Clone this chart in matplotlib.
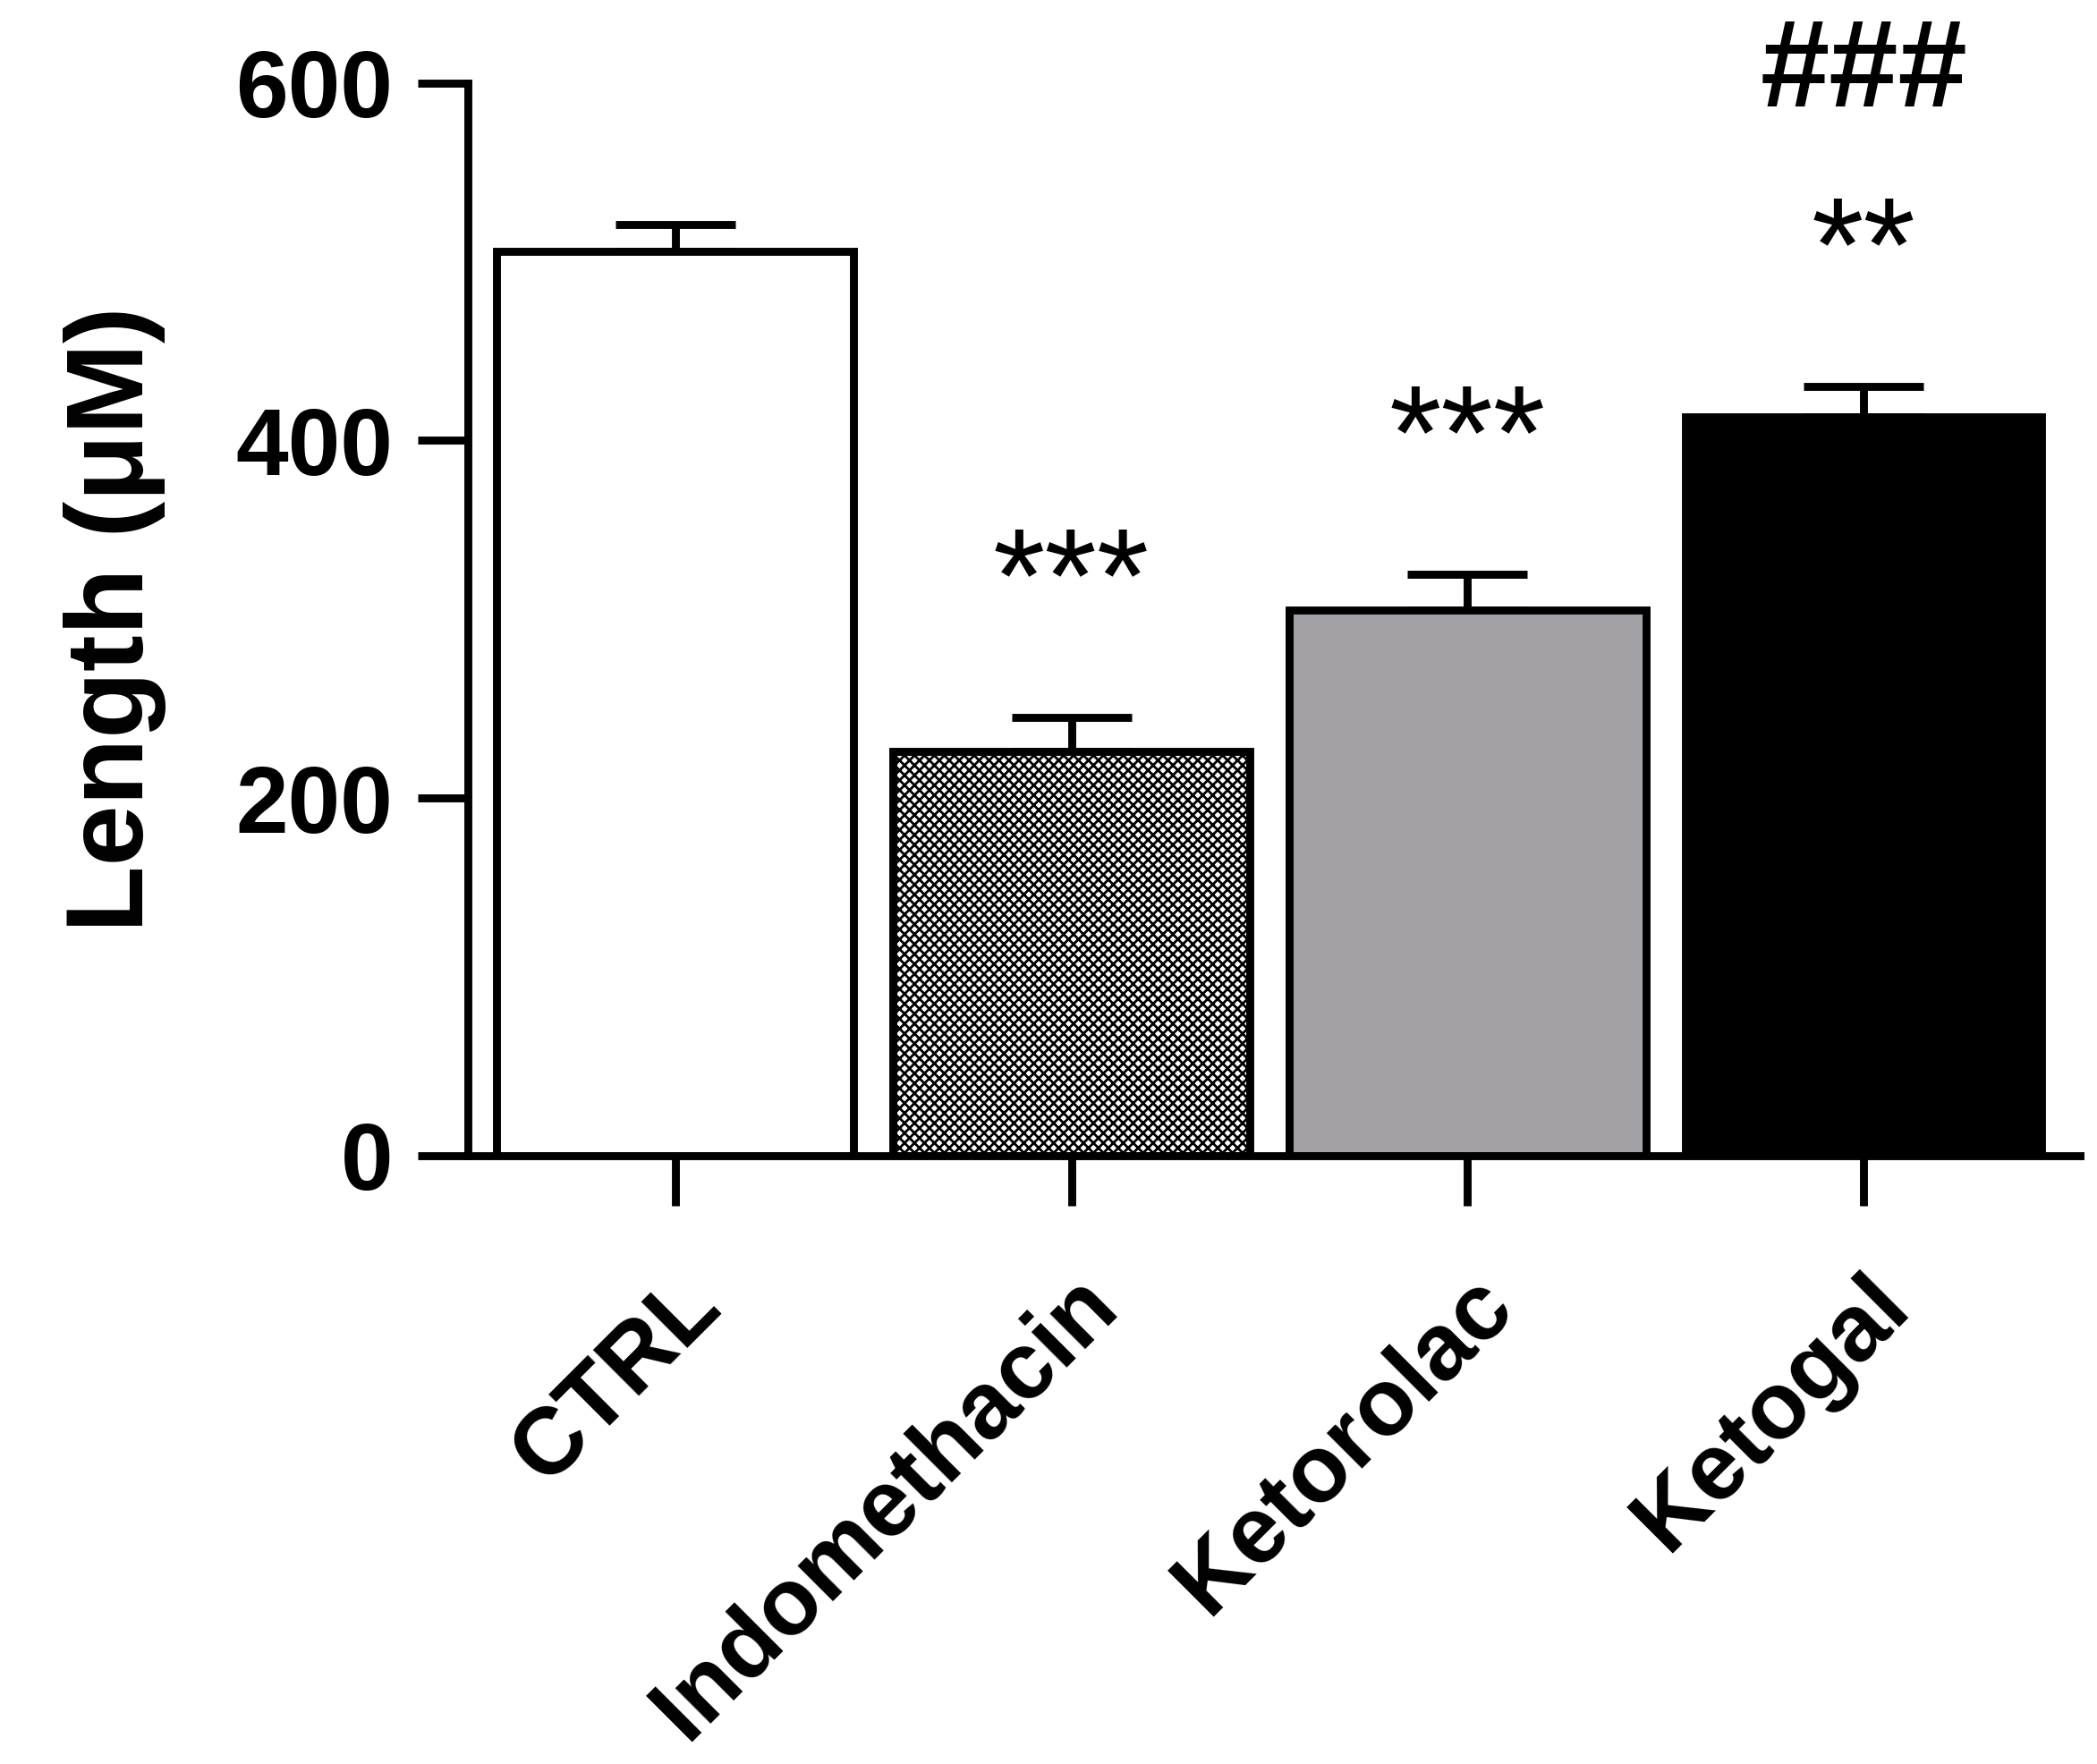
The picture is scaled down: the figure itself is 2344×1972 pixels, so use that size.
import numpy as np
import matplotlib.pyplot as plt

plt.rcParams['font.family'] = ['Liberation Sans', 'DejaVu Sans']
plt.rcParams['font.weight'] = 'bold'

groups = ["CTRL", "Indomethacin", "Ketorolac", "Ketogal"]
means = [506, 226, 305, 413]
sems = [15, 19, 20, 17]
colors = ["white", "white", "#a3a1a6", "black"]
hatches = [None, "xxxxxx", None, None]
marks = ["", "***", "***", "**"]
hash_marks = ["", "", "", "###"]

fig = plt.figure(figsize=(11.72, 9.86), dpi=200)
ax = fig.add_axes([0.223, 0.345, 0.769, 0.608])
x = np.arange(len(groups))
lw = 3.2
for i in range(len(groups)):
    ax.bar(x[i], means[i], width=0.9, color=colors[i], edgecolor="black",
           linewidth=lw, hatch=hatches[i], zorder=2)
ax.errorbar(x, means, yerr=[np.zeros(len(sems)), sems], fmt="none",
            ecolor="black", elinewidth=lw, capsize=24, capthick=lw, zorder=1)
for i in range(len(groups)):
    if marks[i]:
        ax.text(x[i], means[i] + sems[i] + 38, marks[i], ha="center", va="bottom",
                fontsize=54, fontweight="normal", clip_on=False)
    if hash_marks[i]:
        ax.text(x[i], 605, hash_marks[i], ha="center", va="center",
                fontsize=50, fontweight="bold", clip_on=False)

ax.set_xlim(-0.524, 3.547)
ax.set_ylim(0, 600)
ax.set_yticks([0, 200, 400, 600])
ax.set_xticks(x)
ax.set_xticklabels(groups, rotation=45, ha="right", rotation_mode="anchor")
ax.tick_params(labelsize=38, width=lw, length=20, pad=10)
ax.tick_params(axis="x", pad=22)
for s in ["top", "right"]:
    ax.spines[s].set_visible(False)
for s in ["left", "bottom"]:
    ax.spines[s].set_linewidth(lw)
ax.set_ylabel("Length (μM)", fontsize=44, fontweight="bold", labelpad=28)
plt.savefig("out.png", dpi=200)
